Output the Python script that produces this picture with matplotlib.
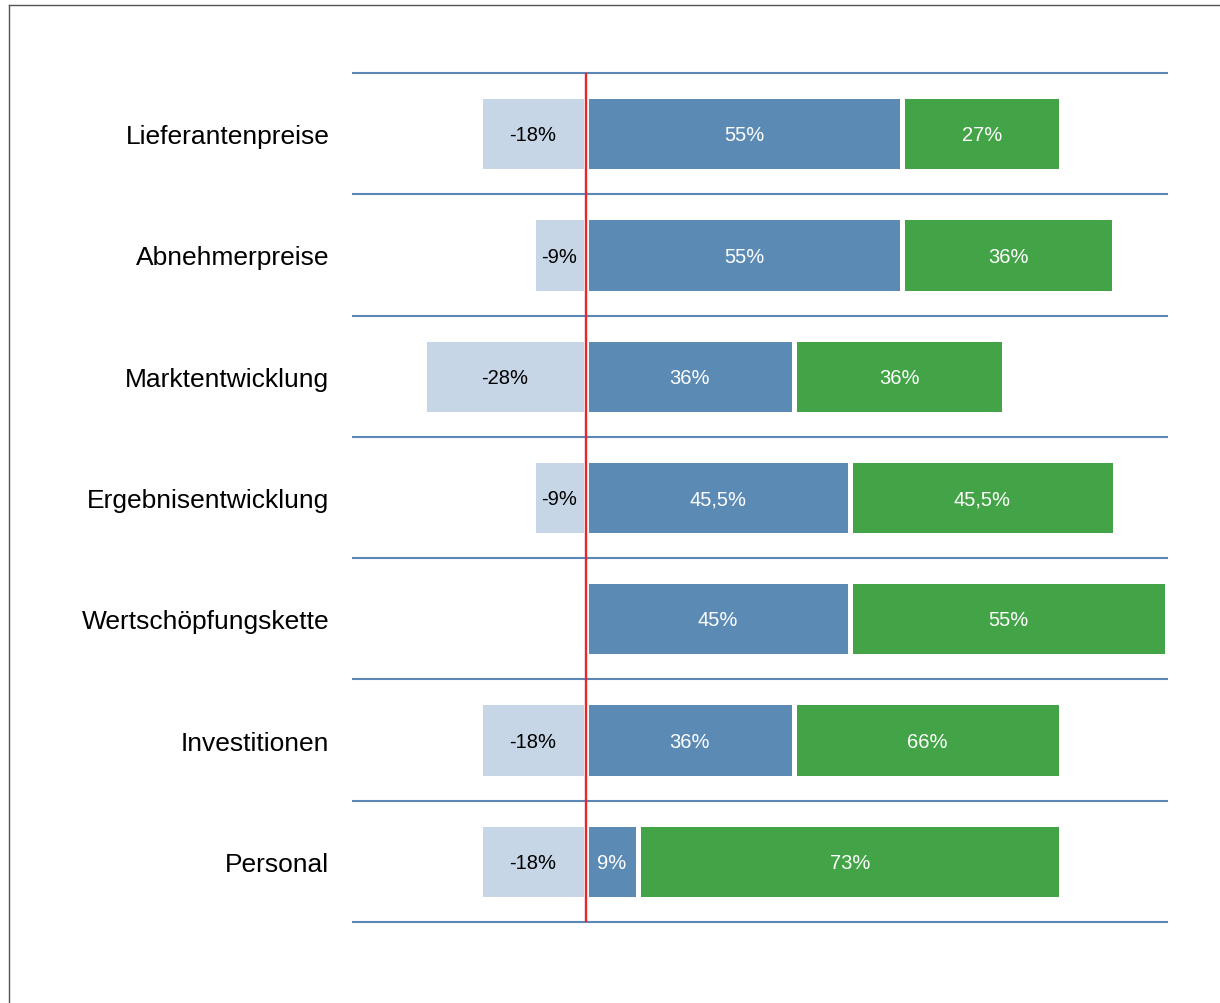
import matplotlib.pyplot as plt
from matplotlib.lines import Line2D

categories = ['Lieferantenpreise', 'Abnehmerpreise', 'Marktentwicklung',
              'Ergebnisentwicklung', 'Wertschöpfungskette', 'Investitionen', 'Personal']
# drawn bar widths in %
neg_vals = [18.2, 9.1, 27.8, 9.1, 0.0, 18.2, 18.2]
mid_vals = [54.5, 54.5, 35.9, 45.5, 45.5, 35.9, 9.1]
pos_vals = [27.3, 36.4, 36.1, 45.5, 54.5, 45.9, 72.7]
# printed labels
neg_labels = ['-18%', '-9%', '-28%', '-9%', '', '-18%', '-18%']
mid_labels = ['55%', '55%', '36%', '45,5%', '45%', '36%', '9%']
pos_labels = ['27%', '36%', '36%', '45,5%', '55%', '66%', '73%']

c_neg = '#c6d6e6'
c_mid = '#5b8ab5'
c_pos = '#43a347'
c_grid = '#5b87b8'

plt.rcParams['font.family'] = ['Liberation Sans', 'DejaVu Sans']

fig = plt.figure(figsize=(12.2, 10.04), dpi=100)
ax = fig.add_axes([353/1220, 1 - 923/1004, (1167 - 353)/1220, (923 - 74)/1004])

y = list(range(len(categories)))
h = 0.62
lw = 3.6
ax.barh(y, [-v for v in neg_vals], height=h, color=c_neg, edgecolor='white', linewidth=lw)
ax.barh(y, mid_vals, height=h, color=c_mid, edgecolor='white', linewidth=lw)
ax.barh(y, pos_vals, left=mid_vals, height=h, color=c_pos, edgecolor='white', linewidth=lw)

for i in y:
    if neg_labels[i]:
        ax.text(-neg_vals[i] / 2, i + 0.01, neg_labels[i], ha='center', va='center',
                fontsize=14.5, color='black')
    ax.text(mid_vals[i] / 2, i + 0.01, mid_labels[i], ha='center', va='center',
            fontsize=14.5, color='white')
    ax.text(mid_vals[i] + pos_vals[i] / 2, i + 0.01, pos_labels[i], ha='center', va='center',
            fontsize=14.5, color='white')

for k in range(len(categories) + 1):
    ax.axhline(k - 0.5, color=c_grid, linewidth=1.5, zorder=1, clip_on=False)

ax.plot([0, 0], [-0.5, len(categories) - 0.5], color='#e8262b', linewidth=1.7, zorder=5)

ax.set_xlim(-40, 100)
ax.set_ylim(len(categories) - 0.5, -0.5)
ax.set_yticks(y)
ax.set_yticklabels(categories, fontsize=19)
ax.tick_params(axis='y', length=0, pad=17)
ax.set_xticks([])
for s in ax.spines.values():
    s.set_visible(False)

# frame lines on the left and top of the picture
fig.add_artist(Line2D([9/1220, 9/1220], [0, 1 - 6/1004], color='#555555', linewidth=1))
fig.add_artist(Line2D([9/1220, 1], [1 - 6/1004, 1 - 6/1004], color='#555555', linewidth=1))

fig.savefig('out.png', dpi=100)
